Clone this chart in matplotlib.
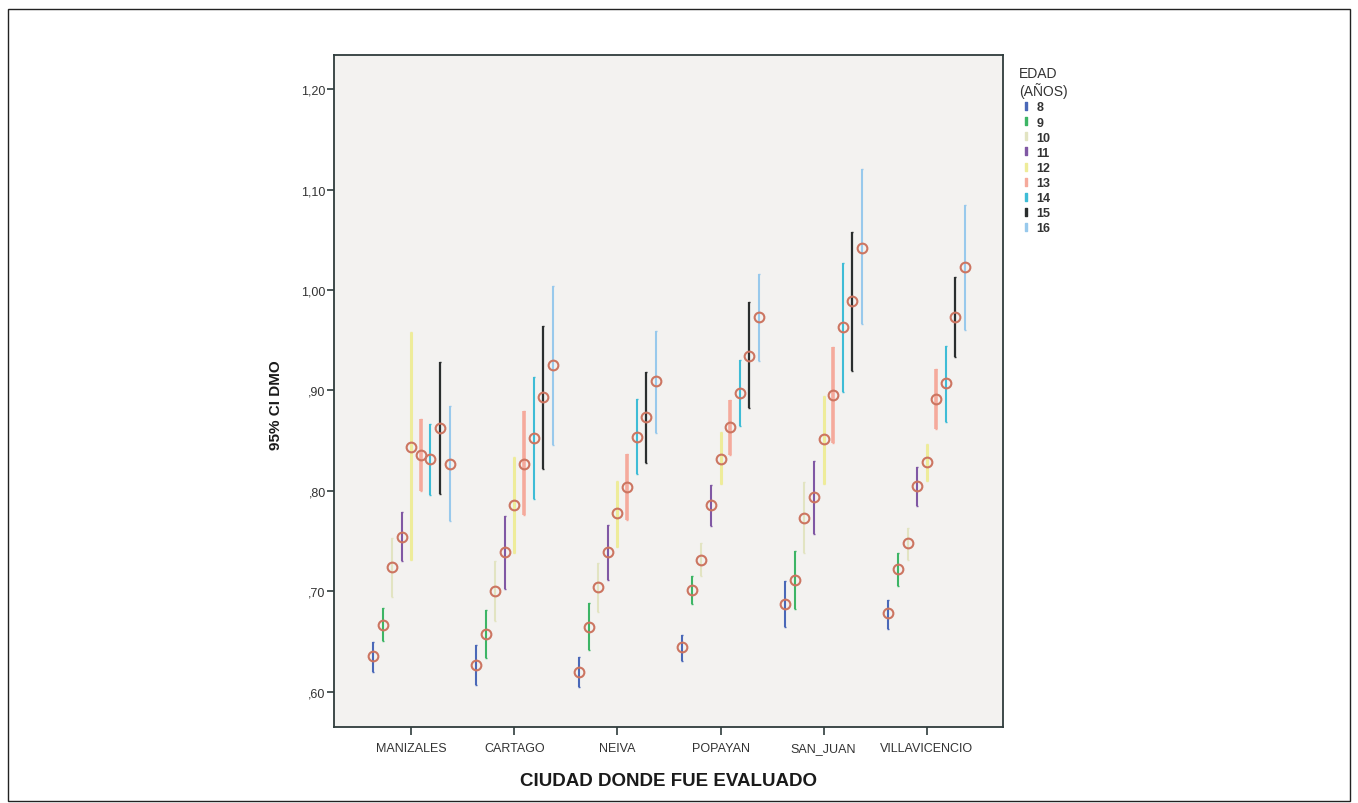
import numpy as np
import matplotlib
matplotlib.use("Agg")
import matplotlib.pyplot as plt
from matplotlib.lines import Line2D
from matplotlib.patches import Rectangle
from matplotlib.ticker import FuncFormatter

plt.rcParams['font.family'] = ['Liberation Sans', 'DejaVu Sans']

# === DATA ===
cities = ['MANIZALES', 'CARTAGO', 'NEIVA', 'POPAYAN', 'SAN_JUAN', 'VILLAVICENCIO']
ages = ['8', '9', '10', '11', '12', '13', '14', '15', '16']

#mean DMO per city (rows) and age (columns)
means = [
    [.636, .667, .724, .754, .844, .836, .832, .863, .827],
    [.627, .658, .700, .739, .786, .827, .853, .894, .925],
    [.620, .665, .704, .739, .778, .804, .854, .874, .909],
    [.645, .701, .731, .786, .832, .864, .898, .934, .973],
    [.687, .711, .773, .794, .852, .896, .963, .989, 1.042],
    [.678, .722, .748, .805, .829, .892, .907, .973, 1.023],
]
#95% CI lower bounds
ci_low = [
    [.620, .651, .694, .730, .731, .800, .796, .797, .770],
    [.607, .634, .671, .702, .738, .776, .792, .822, .846],
    [.605, .642, .679, .711, .744, .771, .817, .828, .858],
    [.631, .687, .715, .765, .807, .836, .865, .883, .929],
    [.665, .682, .738, .757, .807, .848, .899, .919, .966],
    [.663, .705, .731, .785, .810, .862, .869, .933, .960],
]
#95% CI upper bounds
ci_high = [
    [.650, .683, .753, .779, .958, .872, .867, .928, .885],
    [.647, .681, .730, .775, .834, .880, .913, .964, 1.004],
    [.635, .688, .728, .766, .810, .837, .892, .918, .959],
    [.657, .715, .748, .806, .859, .891, .930, .988, 1.016],
    [.710, .740, .809, .830, .895, .943, 1.027, 1.058, 1.121],
    [.691, .738, .763, .824, .847, .921, .944, 1.013, 1.085],
]
y_ticks = [.60, .70, .80, .90, 1.00, 1.10, 1.20]

# === STYLE ===
age_colors = ['#4a68b8', '#3db565', '#e2e4c2', '#8058a4', '#eeec9a',
              '#f5aa9c', '#3ebcd6', '#2a2e2e', '#98c9ec']
age_widths = [1.5, 1.5, 1.5, 1.5, 2.2, 2.6, 1.5, 1.6, 1.5]
marker_color = '#cc7561'
spine_color = '#2f3c3c'
text_color = '#333333'

fig = plt.figure(figsize=(13.58, 8.04), dpi=100)
ax = fig.add_axes([334/1358, 1 - 728/804, (1003-334)/1358, (728-56)/804])
ax.set_facecolor('#f3f2f0')

means = np.array(means)
ci_low = np.array(ci_low)
ci_high = np.array(ci_high)
x_city = np.arange(len(cities))
step = 0.093
offsets = (np.arange(len(ages)) - (len(ages) - 1) / 2) * step

#draw CI bars first, then the mean markers on top
for j in range(len(ages)):
    xs = x_city + offsets[j]
    yerr = [means[:, j] - ci_low[:, j], ci_high[:, j] - means[:, j]]
    ax.errorbar(xs, means[:, j], yerr=yerr, fmt='none', ecolor=age_colors[j],
                elinewidth=age_widths[j], capsize=0.8, capthick=1.0, zorder=2)
for j in range(len(ages)):
    xs = x_city + offsets[j]
    ax.plot(xs, means[:, j], 'o', ms=7, mfc='none', mec=marker_color,
            mew=1.5, zorder=3)

ax.set_xlim(-0.75, 5.74)
ax.set_ylim(0.565, 1.234)
ax.set_xticks(x_city)
ax.set_yticks(y_ticks)

def comma_fmt(v, pos):
    s = f"{v:.2f}".replace('.', ',')
    return s[1:] if s.startswith('0') else s

ax.yaxis.set_major_formatter(FuncFormatter(comma_fmt))
ax.tick_params(axis='y', labelsize=9, labelcolor=text_color, length=5,
               width=1.2, color=spine_color, direction='out', pad=1)
ax.tick_params(axis='x', length=6, width=1.2, color=spine_color,
               direction='out', pad=11)
#baseline alignment so SAN_JUAN's underscore does not push it down
ax.set_xticklabels(cities, fontsize=9, color=text_color, va='baseline')
for sp in ax.spines.values():
    sp.set_color(spine_color)
    sp.set_linewidth(1.3)

ax.set_xlabel('CIUDAD DONDE FUE EVALUADO', fontsize=13.5, fontweight='bold',
              color='#1a1a1a')
ax.xaxis.set_label_coords(0.5, -0.067)
ax.set_ylabel('95% CI DMO', fontsize=11, fontweight='bold', color='#1a1a1a')
ax.yaxis.set_label_coords(-0.076, 0.48)

#legend with "I" glyphs like SPSS
handles = [Line2D([], [], linestyle='none', marker='$\\mathrm{I}$',
                  color=c, markersize=5.5) for c in age_colors]
leg = fig.legend(handles, ages, title='EDAD\n(AÑOS)', loc='upper left',
                 bbox_to_anchor=(1010/1358, 1 - 58/804), frameon=False,
                 fontsize=9, title_fontsize=10, handlelength=1.2,
                 handletextpad=0.2, labelspacing=0.25, borderpad=0.2)
leg._legend_box.align = 'left'
for t in leg.get_texts():
    t.set_fontweight('bold')
    t.set_color(text_color)
leg.get_title().set_color(text_color)

#outer frame of the figure
fig.patches.append(Rectangle((8/1358, 2/804), 1342/1358, 792/804,
                             transform=fig.transFigure, fill=False,
                             edgecolor='#222222', linewidth=1.0))

fig.savefig('out.png', dpi=100, facecolor='white')
